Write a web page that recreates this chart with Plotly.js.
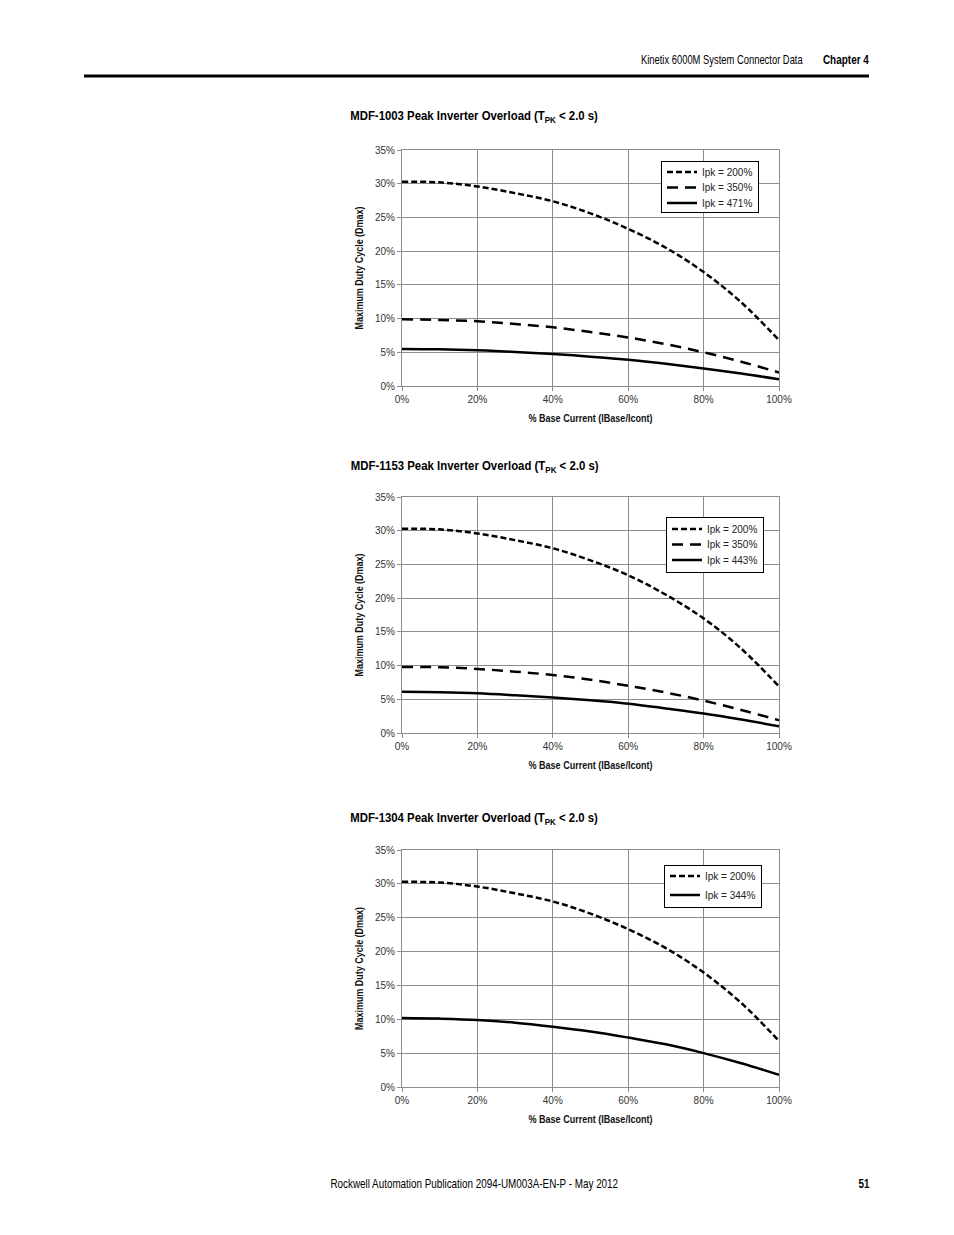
<!DOCTYPE html>
<html><head><meta charset="utf-8">
<script src="https://cdn.plot.ly/plotly-3.0.1.min.js"></script>
<style>html,body{margin:0;padding:0;background:#fff}#c{width:954px;height:1235px}</style>
</head><body><div id="c"></div>
<script>
// Data (percent values)
const baseCurrent = [0,10,20,30,40,50,60,70,80,90,100];

const mdf1003_ipk200 = [30.3,30.2,29.6,28.6,27.4,25.6,23.3,20.5,16.9,12.4,6.8];
const mdf1003_ipk350 = [9.9,9.8,9.6,9.2,8.7,8.0,7.2,6.2,5.0,3.6,2.0];
const mdf1003_ipk471 = [5.5,5.45,5.3,5.05,4.75,4.35,3.9,3.3,2.6,1.85,1.0];

const mdf1153_ipk200 = [30.3,30.2,29.6,28.6,27.4,25.6,23.4,20.5,17.0,12.5,6.9];
const mdf1153_ipk350 = [9.8,9.75,9.5,9.1,8.6,7.9,7.0,6.0,4.8,3.4,1.9];
const mdf1153_ipk443 = [6.1,6.05,5.9,5.6,5.25,4.85,4.35,3.65,2.9,2.0,1.0];

const mdf1304_ipk200 = [30.3,30.2,29.6,28.6,27.4,25.6,23.3,20.5,16.9,12.4,6.8];
const mdf1304_ipk344 = [10.2,10.1,9.9,9.5,8.9,8.2,7.3,6.3,5.0,3.5,1.8];

const xTicks = [0,20,40,60,80,100];
const yTicks = [0,5,10,15,20,25,30,35];

const chartTitles = [
  "MDF-1003 Peak Inverter Overload (T<sub>PK</sub> &lt; 2.0 s)",
  "MDF-1153 Peak Inverter Overload (T<sub>PK</sub> &lt; 2.0 s)",
  "MDF-1304 Peak Inverter Overload (T<sub>PK</sub> &lt; 2.0 s)"
];
const xTitle = "% Base Current (IBase/Icont)";
const yTitle = "Maximum Duty Cycle (Dmax)";
const headerText = "Kinetix 6000M System Connector Data";
const chapterText = "Chapter 4";
const footerText = "Rockwell Automation Publication 2094-UM003A-EN-P - May 2012";
const pageNumber = "51";

const FONT = "'Liberation Sans','Arial',sans-serif";
const W = 954, H = 1235;
const px = v => v / W;
const py = v => 1 - v / H;

const sShort = {color:'#000', width:2.5, dash:'6px,3px', shape:'spline'};
const sLong  = {color:'#000', width:2.5, dash:'11px,7px', shape:'spline'};
const sSolid = {color:'#000', width:2.5, shape:'spline'};

function tr(y, name, line, n) {
  const s = n===1 ? '' : n;
  return {x: baseCurrent, y: y, name: name, mode:'lines', line: line,
    xaxis:'x'+s, yaxis:'y'+s, legend:'legend'+s, hoverinfo:'skip'};
}

const data = [
  tr(mdf1003_ipk200, 'Ipk = 200%', sShort, 1),
  tr(mdf1003_ipk350, 'Ipk = 350%', sLong, 1),
  tr(mdf1003_ipk471, 'Ipk = 471%', sSolid, 1),
  tr(mdf1153_ipk200, 'Ipk = 200%', sShort, 2),
  tr(mdf1153_ipk350, 'Ipk = 350%', sLong, 2),
  tr(mdf1153_ipk443, 'Ipk = 443%', sSolid, 2),
  tr(mdf1304_ipk200, 'Ipk = 200%', sShort, 3),
  tr(mdf1304_ipk344, 'Ipk = 344%', sSolid, 3),
];

const plots = [ {top:150, bot:386}, {top:497, bot:733}, {top:850, bot:1087} ];
const legends = [ {x:661, y:161}, {x:666, y:517}, {x:664, y:865} ];
const legendRows = { legend:{top:11, gap:15.5, bottom:9}, legend2:{top:12, gap:15.5, bottom:12}, legend3:{top:11, gap:19, bottom:12} };
const titlesY = [117, 466, 818];

const layout = {
  width: W, height: H, margin:{l:0,r:0,t:0,b:0},
  paper_bgcolor:'#fff', plot_bgcolor:'#fff',
  font:{family:FONT, size:10, color:'#222'},
  showlegend:true, annotations: [], shapes: []
};

const annWidths = [];

plots.forEach((p, i) => {
  const n = i + 1, sfx = n===1 ? '' : n;
  layout['xaxis' + sfx] = {
    domain:[px(402), px(779)], anchor:'y' + sfx, range:[0,100],
    tickvals:xTicks, ticktext:xTicks.map(v=>v+'%'),
    showgrid:true, gridcolor:'#8c8c8c', gridwidth:1,
    showline:true, linecolor:'#8c8c8c', linewidth:1, mirror:true,
    ticks:'outside', ticklen:4, tickcolor:'#8c8c8c',
    tickfont:{size:10, color:'#333', family:FONT}, zeroline:false,
    title:{text:xTitle, font:{size:10.5, color:'#111', family:FONT, weight:'bold'}, standoff:10}
  };
  layout['yaxis' + sfx] = {
    domain:[py(p.bot), py(p.top)], anchor:'x' + sfx, range:[0,35],
    tickvals:yTicks, ticktext:yTicks.map(v=>v+'%'),
    showgrid:true, gridcolor:'#8c8c8c', gridwidth:1,
    showline:true, linecolor:'#8c8c8c', linewidth:1, mirror:true,
    ticks:'outside', ticklen:4, tickcolor:'#8c8c8c',
    tickfont:{size:10, color:'#333', family:FONT}, zeroline:false,
    title:{text:yTitle, font:{size:10, color:'#111', family:FONT, weight:'bold'}, standoff:9}
  };
  layout['legend' + sfx] = {
    x: px(legends[i].x), y: py(legends[i].y), xanchor:'left', yanchor:'top',
    xref:'paper', yref:'paper',
    bgcolor:'#fff', bordercolor:'#000', borderwidth:1,
    font:{size:10, color:'#222', family:FONT}, tracegroupgap:0, itemwidth:30
  };
  layout.annotations.push({
    text:chartTitles[i], xref:'paper', yref:'paper',
    x:px(474), y:py(titlesY[i]), xanchor:'center', yanchor:'middle',
    showarrow:false, font:{size:13.5, color:'#000', family:FONT, weight:'bold'}
  });
  annWidths.push(248);
});

layout.annotations.push(
  {text:headerText, xref:'paper', yref:'paper', x:px(721), y:py(60),
   xanchor:'center', yanchor:'middle', showarrow:false, font:{size:12.5, color:'#000', family:FONT}},
  {text:chapterText, xref:'paper', yref:'paper', x:px(846), y:py(60),
   xanchor:'center', yanchor:'middle', showarrow:false, font:{size:12.5, color:'#000', family:FONT, weight:'bold'}},
  {text:footerText, xref:'paper', yref:'paper', x:px(474), y:py(1184),
   xanchor:'center', yanchor:'middle', showarrow:false, font:{size:12.5, color:'#000', family:FONT}},
  {text:pageNumber, xref:'paper', yref:'paper', x:px(863.5), y:py(1184),
   xanchor:'center', yanchor:'middle', showarrow:false, font:{size:12.5, color:'#000', family:FONT, weight:'bold'}}
);
annWidths.push(162, 46, 288, 11);

layout.shapes.push({type:'line', xref:'paper', yref:'paper', x0:px(84), x1:px(869), y0:py(76), y1:py(76),
  line:{color:'#000', width:3}});

Plotly.newPlot('c', data, layout, {staticPlot:true, displayModeBar:false}).then(gd => {
  const fit = (el, target) => {
    el.setAttribute('textLength', target);
    el.setAttribute('lengthAdjust', 'spacingAndGlyphs');
  };
  gd.querySelectorAll('text.xtitle, text.x2title, text.x3title').forEach(el => fit(el, 124));
  gd.querySelectorAll('text.ytitle, text.y2title, text.y3title').forEach(el => fit(el, 123));
  gd.querySelectorAll('g.annotation').forEach(g => {
    const idx = +g.getAttribute('data-index');
    const t = g.querySelector('text.annotation-text');
    if (!t || !annWidths[idx]) return;
    const w = t.getBBox().width;
    if (w > 0) {
      t.style.transformBox = 'fill-box';
      t.style.transformOrigin = 'center';
      t.style.transform = 'scaleX(' + (annWidths[idx] / w) + ')';
    }
  });
  Object.keys(legendRows).forEach(id => {
    const g = gd.querySelector('g.' + id);
    if (!g) return;
    const spec = legendRows[id];
    const items = g.querySelectorAll('g.traces');
    items.forEach((it, i) => {
      const m = /translate\(\s*([-\d.]+)[ ,]+([-\d.]+)\s*\)/.exec(it.getAttribute('transform') || '');
      const x0 = m ? parseFloat(m[1]) : 0;
      it.setAttribute('transform', 'translate(' + x0 + ',' + (spec.top + i * spec.gap) + ')');
    });
    const bg = g.querySelector('rect.bg');
    if (bg && items.length) {
      bg.setAttribute('height', spec.top + (items.length - 1) * spec.gap + spec.bottom);
    }
  });
});
</script>
</body></html>
